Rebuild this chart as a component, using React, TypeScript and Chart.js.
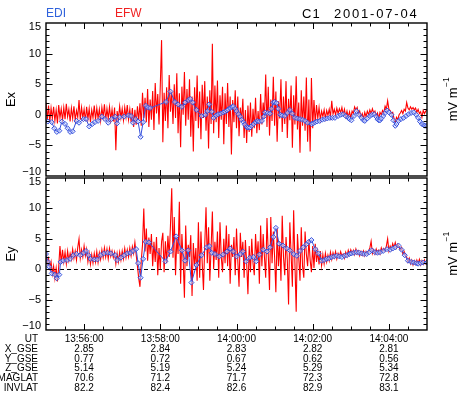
import { useEffect, useRef } from "react";
import { Chart, registerables } from "chart.js";

Chart.register(...registerables);

// ---- time base: seconds after 13:55:00 UT ----
const T_MIN = 0;
const T_MAX = 600;
const EFW_START_S = 0;
const EFW_STEP_S = 2;

// EFW field, Ex (mV/m), one value per 2 s
const efwEx = [
  2.0, -0.8, 1.5, -1.2, 1.1,
  -0.6, 1.3, -1.0, 0.8, -1.4,
  1.6, -0.5, 1.0, -0.9, 1.2,
  -0.7, 1.8, -0.3, 0.9, -1.1,
  1.1, -0.6, 1.4, -0.9, 0.7,
  -0.4, 2.4, -0.8, 1.2, -0.5,
  0.9, -1.0, 1.3, -0.7, 1.0,
  -1.2, 0.8, -0.5, 1.5, -0.8,
  1.1, -0.6, 0.9, -1.0, 1.2,
  -0.4, 1.7, -0.9, 1.0, -0.6,
  1.3, -0.8, 0.9, -1.1, 1.2,
  -5.8, 0.6, -0.7, 1.4, -0.5,
  1.0, -0.9, 1.2, -0.4, 1.6,
  -0.8, 0.9, -1.2, 1.1, -2.0,
  0.8, -1.6, 1.4, -0.9, 1.9,
  -1.8, 3.6, -0.5, 2.8, -1.2,
  4.2, -2.0, 2.5, -0.8, 3.9,
  -2.5, 5.2, 0.2, 3.4, -1.6,
  4.8, 12.2, -4.5, 3.6, -1.0,
  4.5, -2.2, 6.5, 0.5, 3.8,
  -1.5, 5.0, -0.5, 6.8, -3.0,
  3.5, -5.3, 4.6, 0.0, 7.0,
  -1.8, 4.2, -0.8, 5.8, -3.6,
  3.0, -6.0, 4.5, -1.0, 6.4,
  -2.2, 3.8, -4.0, 4.9, -0.5,
  5.5, -2.6, 3.0, -5.5, 4.0,
  -1.5, 11.6, -3.0, 4.8, -1.2,
  5.6, -3.8, 3.2, -0.8, 4.6,
  -4.8, 3.5, -1.5, 5.2, -2.0,
  3.0, -6.5, 2.4, -1.2, 4.0,
  -2.2, 3.0, -3.5, 1.2, -1.0,
  2.6, -3.8, 0.8, -4.6, 1.5,
  -2.8, 2.0, -3.6, 1.0, -2.2,
  2.8, -3.0, 0.6, -2.5, 3.4,
  -1.6, 2.0, -0.5, 6.6, -2.0,
  4.6, -3.4, 2.5, -1.0, 6.2,
  -1.8, 3.8, -4.4, 2.2, -0.6,
  5.8, -2.8, 3.0, -1.5, 5.5,
  -3.8, 2.6, -0.9, 4.8, -5.4,
  3.2, -1.6, 6.3, -2.4, 2.0,
  -6.2, 4.0, -1.8, 3.0, -2.6,
  6.1, -4.4, 2.5, -6.0, 6.0,
  -2.2, 2.4, -1.4, 1.6, -0.6,
  1.2, -0.8, 0.6, -0.3, 0.8,
  -0.6, 0.7, -0.1, 0.9, -0.3,
  2.3, 0.1, 0.9, 0.0, 1.1,
  0.2, 1.0, 0.3, 1.2, 0.0,
  0.9, -0.3, 0.6, -0.4, 0.5,
  -0.5, 0.6, 0.2, 1.3, 0.8,
  1.2, 0.1, 0.6, -0.3, 0.2,
  -0.7, 0.4, -0.3, 0.6, 0.0,
  0.8, 0.2, 1.0, 0.3, 0.6,
  -0.2, 0.3, -0.6, 0.4, 0.0,
  0.7, 0.3, 1.4, 0.9, 2.3,
  0.9, 0.7, 0.2, 0.4, -0.6,
  -1.2, -0.4, -0.8, 0.0, 0.3,
  0.7, 0.2, 0.9, 0.6, 2.0,
  1.1, 0.8, 1.3, 0.9, 1.2,
  0.8, 1.1, 0.4, 0.9, 0.2,
  0.5, -0.4, 0.7, 0.2, 0.6,
  0.8,
];

// EFW field, Ey (mV/m), one value per 2 s
const efwEy = [
  2.8, 1.0, 1.8, 0.2, 1.2,
  -0.8, 0.5, -1.5, 0.2, -2.0,
  0.4, 3.8, 1.0, 3.2, 1.2,
  2.8, 0.9, 3.0, 1.4, 2.6,
  1.6, 3.3, 1.8, 3.0, 1.5,
  3.6, 5.0, 1.8, 3.2, 2.0,
  3.8, 2.2, 3.3, 1.2, 2.6,
  0.8, 2.4, 1.0, 2.6, 1.2,
  2.9, 1.1, 2.7, 1.6, 3.2,
  1.9, 3.5, 2.0, 3.3, 1.7,
  3.4, 2.1, 3.0, 1.9, 2.8,
  0.9, 2.6, 1.2, 2.8, 1.5,
  3.0, 1.7, 3.4, 1.9, 3.2,
  2.0, 3.5, 2.2, 3.7, 2.6,
  4.4, 2.4, 0.5, -1.5, -2.9,
  1.4, 4.0, 10.0, 2.9, 6.7,
  1.4, 5.2, 2.5, 5.8, 0.5,
  4.5, 1.2, 5.3, -1.0, 3.5,
  0.0, 4.5, 6.0, -0.5, 4.6,
  1.0, 5.5, 2.0, 7.2, 13.3,
  1.9, 8.6, -1.0, 5.0, 2.5,
  11.1, -2.4, 5.8, 1.5, -4.7,
  7.2, 0.5, 4.0, 2.0, 5.6,
  -4.4, 4.3, 0.5, 3.5, -1.9,
  7.7, -1.4, 6.2, 1.0, -3.4,
  4.0, 10.2, 1.0, 6.9, -1.9,
  3.5, 9.5, 0.0, 4.5, 1.5,
  6.2, -1.4, 7.7, 2.0, -0.5,
  5.0, 1.0, 7.2, 0.5, 5.8,
  -2.4, 4.0, 2.0, 5.3, -1.0,
  6.7, 1.5, -2.9, 6.0, 2.0,
  4.5, -1.4, 4.8, 1.0, -4.1,
  3.8, -0.5, 5.0, 1.0, -1.0,
  5.8, 1.5, 4.6, -2.4, 7.2,
  0.5, 5.8, 2.0, -1.4, 8.4,
  2.5, -3.4, 8.6, 1.0, 6.2,
  2.0, -3.8, 6.7, 0.5, 4.5,
  -1.9, 8.8, 2.0, -1.0, 5.3,
  1.5, -5.8, 7.7, 2.5, -2.9,
  9.7, 1.0, -7.0, 5.8, 2.0,
  -1.9, 6.9, 0.5, -1.4, 6.2,
  2.5, 0.5, 4.8, 1.5, -0.5,
  3.8, 0.2, 4.2, 1.2, 2.9,
  0.8, 3.0, 0.6, 2.4, 0.9,
  2.6, 1.2, 2.3, 1.4, 2.8,
  1.6, 2.7, 1.9, 2.9, 1.7,
  2.6, 2.0, 2.9, 2.2, 2.5,
  1.8, 2.8, 2.1, 3.1, 2.4,
  3.2, 2.5, 3.1, 2.4, 3.3,
  2.5, 3.0, 2.2, 2.9, 2.3,
  3.0, 2.2, 2.9, 2.5, 3.0,
  3.5, 4.6, 2.6, 3.2, 2.5,
  3.3, 2.6, 3.1, 2.5, 3.5,
  2.9, 3.4, 3.0, 3.8, 5.0,
  3.0, 3.8, 3.2, 4.2, 3.6,
  4.4, 3.5, 4.1, 3.6, 3.2,
  3.6, 2.5, 2.9, 2.2, 2.0,
  1.2, 1.8, 0.9, 1.5, 0.7,
  1.4, 0.8, 1.5, 0.9, 1.6,
  0.7, 1.4, 0.8, 1.5, 0.9,
  1.2,
];

// EDI field, Ex: [seconds after 13:55:00, mV/m]
const ediEx: [number, number][] = [
  [3, -1.1], [9, -1.2], [13, -2.2], [17, -2.8], [21, -2.6], [25, -1.1], [30, -1.5],
  [34, -2.2], [38, -2.8], [42, -2.7], [48, -1.0], [52, -1.3], [59, -0.7], [63, -0.7],
  [68, -1.9], [73, -1.5], [77, -1.2], [82, -1.0], [88, -0.3], [93, -0.7], [98, -1.3],
  [103, -0.7], [109, -0.3], [112, -1.4], [116, -0.4], [123, -0.3], [130, -0.1], [134, -0.2],
  [137, -1.3], [141, -0.7], [145, -1.1], [149, -3.6], [153, -1.2], [157, 1.5], [160, 1.2],
  [164, 1.1], [189, 2.1], [196, 3.8], [203, 2.1], [208, 1.7], [214, 1.3], [219, 2.0],
  [224, 2.4], [227, 2.6], [231, 2.0], [237, 0.8], [245, -0.2], [251, 0.0], [254, 0.6],
  [257, 1.7], [261, 0.5], [264, -0.5], [268, -0.1], [271, 0.1], [275, 0.2], [279, 0.4],
  [282, 0.5], [285, 0.7], [287, 0.9], [290, 1.1], [293, 1.3], [295, 1.4], [298, 1.0],
  [300, 0.6], [303, 0.1], [306, -0.3], [308, -0.8], [311, -1.2], [313, -1.6], [316, -2.0],
  [318, -2.1], [321, -2.1], [324, -1.8], [327, -1.5], [330, -1.2], [333, -1.0], [336, -1.1],
  [340, -1.0], [343, -0.3], [345, 0.4], [349, 0.3], [353, 0.2], [355, 1.0], [358, 2.0],
  [360, 2.1], [363, 1.9], [366, 1.0], [369, 0.0], [372, -0.1], [376, -0.2], [380, 0.3],
  [384, 0.8], [388, 0.2], [392, -0.5], [396, -0.6], [400, -0.7], [404, -0.8], [408, -1.0],
  [412, -1.3], [418, -1.5], [421, -1.4], [424, -1.2], [427, -1.1], [431, -1.0], [435, -0.8],
  [439, -0.7], [443, -0.6], [447, -0.5], [451, -0.5], [455, -0.5], [460, -0.2], [464, 0.0],
  [468, 0.1], [472, -0.2], [476, -0.5], [478, -0.7], [481, -0.9], [485, -0.2], [489, 0.6],
  [493, 0.0], [497, -0.5], [500, -0.9], [502, -1.0], [506, -0.6], [510, -0.2], [513, 0.0],
  [517, 0.1], [520, -0.3], [522, -0.7], [524, -0.9], [526, -0.9], [528, -0.6], [531, -0.2],
  [534, 0.3], [537, 0.7], [540, 0.4], [544, 0.0], [547, -0.9], [550, -1.8], [552, -1.5],
  [555, -1.0], [559, -0.7], [563, -0.5], [567, -0.2], [571, 0.1], [575, 0.3], [579, 0.4],
  [583, 0.0], [586, -0.5], [589, -1.1], [592, -1.5], [595, -1.7], [597, -1.8], [600, -1.8],
];

// EDI field, Ey: [seconds after 13:55:00, mV/m]
const ediEy: [number, number][] = [
  [0, 2.5], [3, 1.2], [5, 0.4], [9, -0.7], [14, -0.9], [17, -1.5], [21, -0.9], [23, 1.2],
  [27, 1.4], [33, 1.5], [38, 1.7], [43, 2.3], [48, 2.5], [54, 2.3], [59, 2.7], [63, 3.0],
  [67, 2.3], [70, 1.7], [76, 1.6], [81, 1.6], [86, 2.3], [91, 2.6], [97, 2.7], [102, 2.6],
  [109, 2.3], [112, 1.5], [118, 1.9], [123, 2.3], [128, 2.6], [133, 2.7], [137, 3.0],
  [142, 3.3], [145, 1.0], [149, -1.4], [153, 1.7], [157, 4.5], [162, 4.4], [188, 1.3],
  [196, 2.9], [205, 5.4], [214, 3.1], [219, 1.4], [224, 3.1], [229, -2.2], [237, 0.7],
  [245, 2.3], [253, 3.6], [257, 3.8], [261, 2.7], [266, 2.5], [273, 2.1], [279, 2.4],
  [285, 2.9], [290, 3.4], [295, 2.9], [300, 2.1], [306, 2.5], [310, 2.9], [315, 1.3],
  [321, 1.9], [327, 2.0], [331, 1.3], [336, 2.4], [342, 3.2], [348, 2.9], [353, 3.6],
  [358, 5.3], [362, 6.8], [367, 4.2], [373, 3.9], [379, 3.4], [384, 3.1], [390, 2.5],
  [395, 2.2], [400, 3.0], [405, 3.6], [410, 4.1], [414, 4.5], [418, 4.8], [424, 3.3],
  [429, 2.6], [434, 1.4], [438, 1.5], [442, 1.7], [446, 1.8], [450, 2.0], [454, 2.1],
  [458, 2.2], [462, 2.1], [466, 2.0], [470, 2.2], [474, 2.3], [478, 2.5], [481, 2.6],
  [485, 2.7], [489, 2.8], [493, 2.7], [497, 2.6], [501, 2.5], [505, 2.5], [509, 2.8],
  [513, 3.1], [518, 2.8], [522, 2.7], [526, 2.8], [531, 3.0], [537, 3.3], [542, 3.2],
  [546, 3.4], [550, 3.6], [555, 3.9], [560, 3.2], [565, 2.3], [570, 1.4], [575, 1.2],
  [579, 1.1], [583, 1.0], [586, 0.9], [590, 1.0], [594, 1.1], [600, 1.1],
];

// ---- axes ----
const Y_MIN = -10;
const Y_MAX = 15;
const yTickValues = [-10, -5, 0, 5, 10, 15];
const yTickLabels = ["\u221210", "\u22125", "0", "5", "10", "15"];
const timeTickValues = [60, 180, 300, 420, 540];
const utLabels = ["13:56:00", "13:58:00", "14:00:00", "14:02:00", "14:04:00"];

// orbit annotation rows under the time axis
const xGse = ["2.85", "2.84", "2.83", "2.82", "2.81"];
const yGse = ["0.77", "0.72", "0.67", "0.62", "0.56"];
const zGse = ["5.14", "5.19", "5.24", "5.29", "5.34"];
const magLat = ["70.6", "71.2", "71.7", "72.3", "72.8"];
const invLat = ["82.2", "82.4", "82.6", "82.9", "83.1"];

const tableRows: [string, string[]][] = [
  ["UT", utLabels],
  ["X_GSE", xGse],
  ["Y_GSE", yGse],
  ["Z_GSE", zGse],
  ["MAGLAT", magLat],
  ["INVLAT", invLat],
];

const W = 461;
const H = 400;
const FONT = '"Liberation Sans", Arial, Helvetica, sans-serif';
const RED = "#ff0000";
const BLUE = "#3550dc";

type DecoOpts = {
  yTitle: string;
  zeroLine: boolean;
  header: boolean;
  table: boolean;
};

function drawRotated(ctx: CanvasRenderingContext2D, x: number, y: number, draw: () => void) {
  ctx.save();
  ctx.translate(x, y);
  ctx.rotate(-Math.PI / 2);
  draw();
  ctx.restore();
}

const panelDeco = {
  id: "panelDeco",
  beforeDatasetsDraw(chart: any, _args: any, o: DecoOpts) {
    if (!o.zeroLine) return;
    const { ctx, chartArea: a, scales } = chart;
    const py = Math.round(scales.y.getPixelForValue(0)) + 0.5;
    ctx.save();
    ctx.strokeStyle = "#000";
    ctx.lineWidth = 1;
    ctx.setLineDash([4, 3]);
    ctx.beginPath();
    ctx.moveTo(a.left, py);
    ctx.lineTo(a.right, py);
    ctx.stroke();
    ctx.restore();
  },
  afterDatasetsDraw(chart: any, _args: any, o: DecoOpts) {
    const { ctx, chartArea: a, scales } = chart;
    const xs = scales.x;
    const ys = scales.y;
    ctx.save();
    ctx.setLineDash([]);
    ctx.strokeStyle = "#000";

    // inward ticks on all four sides
    ctx.lineWidth = 1;
    ctx.beginPath();
    for (let t = T_MIN + 30; t < T_MAX; t += 30) {
      const major = timeTickValues.includes(t);
      const len = major ? 6 : 3.5;
      const px = Math.round(xs.getPixelForValue(t)) + 0.5;
      ctx.moveTo(px, a.bottom);
      ctx.lineTo(px, a.bottom - len);
      ctx.moveTo(px, a.top);
      ctx.lineTo(px, a.top + len);
    }
    for (let v = Y_MIN + 1; v < Y_MAX; v++) {
      const major = yTickValues.includes(v);
      const len = major ? 6.5 : 3.5;
      const py = Math.round(ys.getPixelForValue(v)) + 0.5;
      ctx.moveTo(a.left, py);
      ctx.lineTo(a.left + len, py);
      ctx.moveTo(a.right, py);
      ctx.lineTo(a.right - len, py);
    }
    ctx.stroke();

    // frame
    ctx.lineWidth = 1.4;
    ctx.strokeRect(a.left, a.top, a.right - a.left, a.bottom - a.top);

    // y tick labels
    ctx.fillStyle = "#000";
    ctx.font = `11px ${FONT}`;
    ctx.textAlign = "right";
    ctx.textBaseline = "middle";
    yTickValues.forEach((v, i) => {
      let py = ys.getPixelForValue(v);
      if (v === Y_MAX) py += 4;
      if (v === Y_MIN) py -= 4;
      ctx.fillText(yTickLabels[i], 41, py);
    });

    const midY = (a.top + a.bottom) / 2;

    // component label on the left
    drawRotated(ctx, 15, midY, () => {
      ctx.font = `13px ${FONT}`;
      ctx.textAlign = "center";
      ctx.textBaseline = "alphabetic";
      ctx.fillText(o.yTitle, 0, 0);
    });

    // unit label on the right
    drawRotated(ctx, 457, midY, () => {
      ctx.textBaseline = "alphabetic";
      ctx.textAlign = "left";
      ctx.font = `13px ${FONT}`;
      const main = "mV m";
      const wMain = ctx.measureText(main).width;
      ctx.font = `8.5px ${FONT}`;
      const sup = "\u22121";
      const wSup = ctx.measureText(sup).width;
      const x0 = -(wMain + wSup) / 2;
      ctx.font = `13px ${FONT}`;
      ctx.fillText(main, x0, 0);
      ctx.font = `8.5px ${FONT}`;
      ctx.fillText(sup, x0 + wMain + 0.5, -8.5);
    });

    if (o.header) {
      ctx.textAlign = "left";
      ctx.textBaseline = "middle";
      ctx.font = `12px ${FONT}`;
      ctx.fillStyle = "#2f62dc";
      ctx.fillText("EDI", 46, 14);
      ctx.fillStyle = "#f02020";
      ctx.fillText("EFW", 115, 14);
      ctx.fillStyle = "#000";
      ctx.font = `13px ${FONT}`;
      (ctx as any).letterSpacing = "1px";
      ctx.fillText("C1", 302, 14);
      (ctx as any).letterSpacing = "1.8px";
      ctx.fillText("2001-07-04", 334, 14);
      (ctx as any).letterSpacing = "0px";
    }

    if (o.table) {
      ctx.fillStyle = "#000";
      ctx.font = `10px ${FONT}`;
      ctx.textBaseline = "middle";
      tableRows.forEach(([name, vals], r) => {
        const ry = 339 + r * 9.9;
        ctx.textAlign = "right";
        ctx.fillText(name, 38, ry);
        ctx.textAlign = "center";
        vals.forEach((s, i) => {
          ctx.fillText(s, xs.getPixelForValue(timeTickValues[i]), ry);
        });
      });
    }
    ctx.restore();
  },
};

function makeConfig(
  efw: number[],
  edi: [number, number][],
  top: number,
  bottom: number,
  deco: DecoOpts
): any {
  return {
    type: "line",
    data: {
      datasets: [
        {
          // EDI is listed first so it is painted over the EFW trace
          label: "EDI",
          data: edi.map(([t, v]) => ({ x: t, y: v })),
          borderColor: BLUE,
          borderWidth: 1,
          tension: 0,
          pointStyle: "rectRot",
          pointRadius: 2.5,
          pointBorderWidth: 1,
          pointBorderColor: BLUE,
          pointBackgroundColor: "rgba(210,218,255,0.55)",
        },
        {
          label: "EFW",
          data: efw.map((v, i) => ({ x: EFW_START_S + i * EFW_STEP_S, y: v })),
          borderColor: RED,
          borderWidth: 1.1,
          pointRadius: 0,
          tension: 0,
        },
      ],
    },
    options: {
      responsive: false,
      animation: false,
      devicePixelRatio: 1,
      events: [],
      layout: { padding: { left: 46, right: W - 427, top, bottom: H - bottom } },
      scales: {
        x: { type: "linear", min: T_MIN, max: T_MAX, display: false },
        y: { type: "linear", min: Y_MIN, max: Y_MAX, display: false },
      },
      plugins: {
        legend: { display: false },
        tooltip: { enabled: false },
        panelDeco: deco,
      },
    },
    plugins: [panelDeco],
  };
}

export default function App() {
  const exRef = useRef<HTMLCanvasElement>(null);
  const eyRef = useRef<HTMLCanvasElement>(null);

  useEffect(() => {
    const exChart = new Chart(
      exRef.current!,
      makeConfig(efwEx, ediEx, 23, 176, { yTitle: "Ex", zeroLine: false, header: true, table: false })
    );
    const eyChart = new Chart(
      eyRef.current!,
      makeConfig(efwEy, ediEy, 178, 330, { yTitle: "Ey", zeroLine: true, header: false, table: true })
    );
    return () => {
      exChart.destroy();
      eyChart.destroy();
    };
  }, []);

  const canvasStyle: React.CSSProperties = { position: "absolute", left: 0, top: 0, display: "block" };

  return (
    <div style={{ position: "fixed", left: 0, top: 0, width: W, height: H, background: "#fff" }}>
      <canvas ref={exRef} width={W} height={H} style={canvasStyle} />
      <canvas ref={eyRef} width={W} height={H} style={canvasStyle} />
    </div>
  );
}
